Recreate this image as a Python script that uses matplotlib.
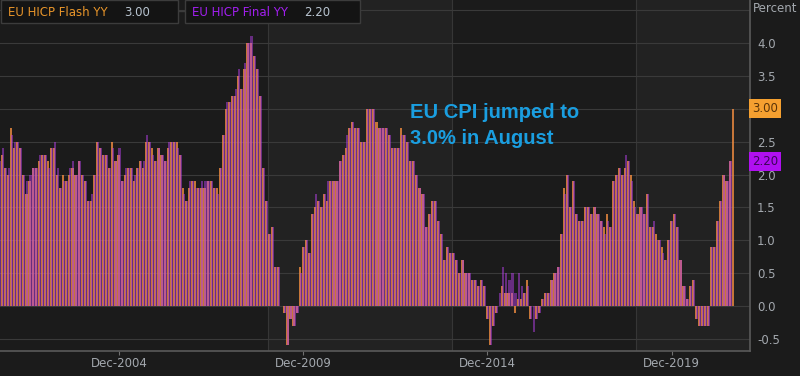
import matplotlib.pyplot as plt
import numpy as np
from matplotlib.patches import Rectangle
from matplotlib.transforms import blended_transform_factory

# monthly values, Sep-2001 .. Aug-2021 (flash) / Jul-2021 (final)
final_yy = [2.2, 2.4, 2.1, 2.1,
            2.6, 2.5, 2.5, 2.4, 2.0, 1.9, 2.0, 2.1, 2.1, 2.3, 2.3, 2.3,
            2.1, 2.4, 2.5, 2.1, 1.8, 1.9, 1.9, 2.1, 2.2, 2.0, 2.2, 2.0,
            1.9, 1.6, 1.7, 2.0, 2.5, 2.4, 2.3, 2.3, 2.1, 2.4, 2.2, 2.4,
            1.9, 2.1, 2.1, 2.1, 2.0, 2.1, 2.2, 2.2, 2.6, 2.5, 2.3, 2.2,
            2.4, 2.3, 2.2, 2.5, 2.5, 2.5, 2.4, 2.3, 1.7, 1.6, 1.9, 1.9,
            1.8, 1.8, 1.9, 1.9, 1.9, 1.9, 1.8, 1.7, 2.1, 2.6, 3.1, 3.1,
            3.2, 3.3, 3.6, 3.3, 3.7, 4.0, 4.1, 3.8, 3.6, 3.2, 2.1, 1.6,
            1.1, 1.2, 0.6, 0.6, 0.0, -0.1, -0.6, -0.2, -0.3, -0.1, 0.5, 0.9,
            1.0, 0.8, 1.4, 1.7, 1.6, 1.5, 1.7, 1.9, 1.9, 1.9, 1.9, 2.2,
            2.3, 2.6, 2.7, 2.8, 2.7, 2.7, 2.5, 2.5, 3.0, 3.0, 3.0, 2.7,
            2.7, 2.7, 2.7, 2.6, 2.4, 2.4, 2.4, 2.6, 2.6, 2.5, 2.2, 2.2,
            2.0, 1.8, 1.7, 1.2, 1.4, 1.6, 1.6, 1.3, 1.1, 0.7, 0.9, 0.8,
            0.8, 0.7, 0.5, 0.7, 0.5, 0.5, 0.4, 0.4, 0.3, 0.4, 0.3, -0.2,
            -0.6, -0.3, -0.1, 0.2, 0.6, 0.5, 0.4, 0.5, 0.2, 0.5, 0.3, 0.2,
            0.3, -0.2, -0.4, -0.2, -0.1, 0.1, 0.2, 0.2, 0.4, 0.5, 0.6, 1.1,
            1.7, 2.0, 1.5, 1.9, 1.4, 1.3, 1.3, 1.5, 1.5, 1.4, 1.5, 1.4,
            1.3, 1.1, 1.3, 1.2, 1.9, 2.0, 2.1, 2.0, 2.3, 2.2, 1.9, 1.5,
            1.4, 1.5, 1.4, 1.7, 1.2, 1.3, 1.0, 1.0, 0.8, 0.7, 1.0, 1.3,
            1.4, 1.2, 0.7, 0.3, 0.1, 0.3, 0.4, -0.2, -0.3, -0.3, -0.3, -0.3,
            0.9, 0.9, 1.3, 1.6, 2.0, 1.9, 2.2]

flash_yy = [2.4, 2.3, 2.1, 2.0,
            2.7, 2.4, 2.5, 2.4, 2.0, 1.7, 1.9, 2.1, 2.1, 2.2, 2.3, 2.3,
            2.2, 2.4, 2.4, 2.0, 1.8, 2.0, 1.9, 2.0, 2.1, 2.0, 2.2, 2.0,
            1.9, 1.6, 1.6, 2.0, 2.5, 2.4, 2.3, 2.3, 2.1, 2.5, 2.2, 2.3,
            1.9, 2.0, 2.1, 2.1, 1.9, 2.1, 2.2, 2.1, 2.5, 2.5, 2.4, 2.2,
            2.4, 2.3, 2.2, 2.4, 2.5, 2.5, 2.5, 2.3, 1.8, 1.6, 1.8, 1.9,
            1.9, 1.8, 1.8, 1.8, 1.9, 1.9, 1.8, 1.8, 2.1, 2.6, 3.0, 3.1,
            3.2, 3.2, 3.5, 3.3, 3.6, 4.0, 4.0, 3.8, 3.6, 3.2, 2.1, 1.6,
            1.1, 1.2, 0.6, 0.6, 0.0, -0.1, -0.6, -0.2, -0.3, -0.1, 0.6, 0.9,
            1.0, 0.8, 1.4, 1.5, 1.6, 1.5, 1.7, 1.6, 1.9, 1.9, 1.9, 2.2,
            2.3, 2.4, 2.7, 2.8, 2.7, 2.7, 2.5, 2.5, 3.0, 3.0, 3.0, 2.8,
            2.7, 2.7, 2.7, 2.6, 2.4, 2.4, 2.4, 2.7, 2.6, 2.5, 2.2, 2.2,
            2.0, 1.8, 1.7, 1.2, 1.4, 1.6, 1.6, 1.3, 1.1, 0.7, 0.9, 0.8,
            0.8, 0.7, 0.5, 0.7, 0.5, 0.5, 0.4, 0.4, 0.3, 0.4, 0.3, -0.2,
            -0.6, -0.3, -0.1, 0.0, 0.3, 0.2, 0.2, 0.2, -0.1, 0.1, 0.1, 0.2,
            0.4, -0.2, 0.0, -0.2, -0.1, 0.1, 0.2, 0.2, 0.4, 0.5, 0.6, 1.1,
            1.8, 2.0, 1.5, 1.9, 1.4, 1.3, 1.3, 1.5, 1.5, 1.4, 1.5, 1.4,
            1.3, 1.2, 1.4, 1.2, 1.9, 2.0, 2.1, 2.0, 2.1, 2.2, 2.0, 1.6,
            1.4, 1.5, 1.4, 1.7, 1.2, 1.2, 1.1, 1.0, 0.9, 0.7, 1.0, 1.3,
            1.4, 1.2, 0.7, 0.3, 0.1, 0.3, 0.4, -0.2, -0.3, -0.3, -0.3, -0.3,
            0.9, 0.9, 1.3, 1.6, 2.0, 1.9, 2.2, 3.0]

tick_pos = [39, 99, 159, 219]
tick_labels = ["Dec-2004", "Dec-2009", "Dec-2014", "Dec-2019"]
band_edges = [87.5, 147.5, 207.5]
y_ticks = [-0.5, 0.0, 0.5, 1.0, 1.5, 2.0, 2.5, 3.0, 3.5, 4.0]

bg_dark = '#1b1b1b'
bg_light = '#222222'
txt_gray = '#a3a8ae'
c_flash = '#f08c40'
c_final = '#b440e6'

fig = plt.figure(figsize=(8, 3.76), dpi=100, facecolor=bg_dark)
ax = fig.add_axes([0, 25 / 376, 750 / 800, 351 / 376])
ax.set_facecolor(bg_dark)

xmin, xmax = 0.24, 244.5
ax.axvspan(band_edges[0], band_edges[1], color=bg_light, lw=0, zorder=0)
ax.axvspan(band_edges[2], xmax, color=bg_light, lw=0, zorder=0)
for b in band_edges:
    ax.axvline(b, color='#363636', lw=0.8, zorder=0.5)
for g in np.arange(-0.5, 4.6, 0.5):
    ax.axhline(g, color='#3a3a3a', lw=0.8, zorder=0.5)

xf = np.arange(len(flash_yy))
xr = np.arange(len(final_yy))
ax.bar(xf - 0.15, flash_yy, width=0.7, color=c_flash, alpha=0.8, lw=0, zorder=2)
ax.bar(xr + 0.15, final_yy, width=0.7, color=c_final, alpha=0.5, lw=0, zorder=3)

ax.set_xlim(xmin, xmax)
ax.set_ylim(-0.684, 4.654)
ax.set_xticks(tick_pos)
ax.set_xticklabels(tick_labels)
ax.yaxis.tick_right()
ax.set_yticks(y_ticks)
# 3.0 sits under the flash value tag
ax.set_yticklabels(["" if v == 3.0 else f"{v:.1f}" for v in y_ticks])
ax.tick_params(axis='x', colors='#707070', length=3, width=0.8, labelcolor=txt_gray,
               labelsize=8.5, pad=1.5)
ax.tick_params(axis='y', length=0, labelcolor=txt_gray, labelsize=8.5, pad=5)
for s in ['top', 'left']:
    ax.spines[s].set_visible(False)
for s in ['bottom', 'right']:
    ax.spines[s].set_color('#5a5a5a')
    ax.spines[s].set_linewidth(1.2)

fig.text(753 / 800, 1 - 9 / 376, "Percent", color=txt_gray, fontsize=8.5,
         ha='left', va='center')

# value tags on the right axis
tr = blended_transform_factory(ax.transAxes, ax.transData)
ax.text(1.003, flash_yy[-1], "3.00", transform=tr, color='#5a3408', fontsize=8.5,
        ha='left', va='center', clip_on=False, zorder=10,
        bbox=dict(boxstyle='square,pad=0.25', fc='#f5a030', ec='none'))
ax.text(1.003, final_yy[-1], "2.20", transform=tr, color='#3a0655', fontsize=8.5,
        ha='left', va='center', clip_on=False, zorder=10,
        bbox=dict(boxstyle='square,pad=0.25', fc='#b010f0', ec='none'))

# legend boxes
def legend_box(x0, x1, name, val, col, x_val):
    fig.add_artist(Rectangle((x0 / 800, 1 - 23 / 376), (x1 - x0) / 800, 23 / 376,
                             transform=fig.transFigure, fc='#141414', ec='#3c3c3c',
                             lw=1, zorder=5))
    fig.text((x0 + 7) / 800, 1 - 12 / 376, name, color=col, fontsize=8.5,
             ha='left', va='center', zorder=6)
    fig.text(x_val / 800, 1 - 12 / 376, val, color='#b8c4d0', fontsize=8.5,
             ha='left', va='center', zorder=6)

legend_box(0.5, 178, "EU HICP Flash YY", "3.00", '#e8952a', 124)
legend_box(185, 360, "EU HICP Final YY", "2.20", '#a21ff0', 304)
fig.add_artist(plt.Line2D([178 / 800, 185 / 800], [1 - 11 / 376] * 2,
                          transform=fig.transFigure, color='#3c3c3c', lw=1))

fig.text(410 / 800, 1 - 103 / 376, "EU CPI jumped to\n3.0% in August",
         color='#1a9ee0', fontsize=14.5, fontweight='bold',
         family='Liberation Sans', ha='left', va='top', linespacing=1.45)

plt.savefig('out.png', dpi=100, facecolor=bg_dark)
